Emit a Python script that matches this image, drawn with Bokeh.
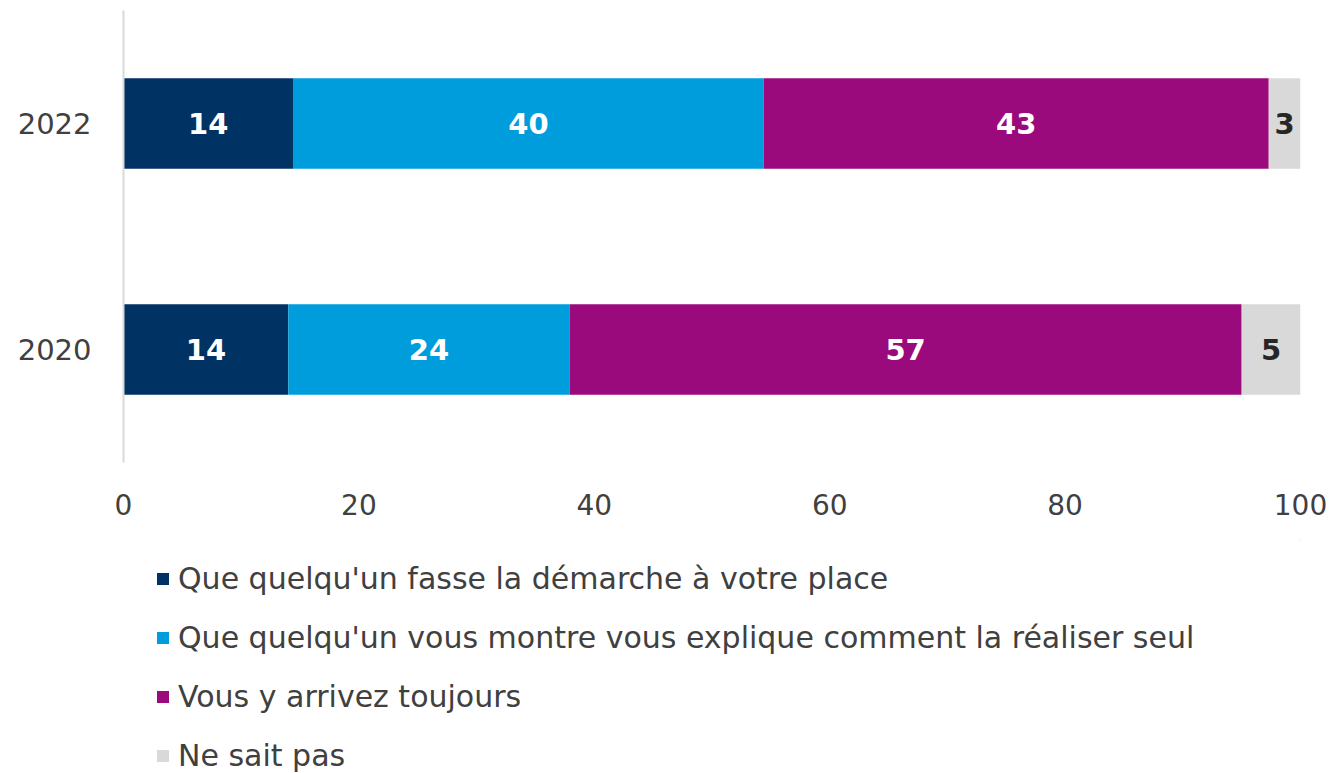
from bokeh.plotting import figure
from bokeh.layouts import column
from bokeh.models import ColumnDataSource, FactorRange, FixedTicker, Legend
from bokeh.core.properties import value
from bokeh.embed import file_html
from bokeh.resources import INLINE

years = ["2020", "2022"]
series_names = [
    "Que quelqu'un fasse la démarche à votre place",
    "Que quelqu'un vous montre vous explique comment la réaliser seul",
    "Vous y arrivez toujours",
    "Ne sait pas",
]
fasse = [14.0, 14.4]
montre = [23.9, 40.0]
arrivez = [57.1, 42.9]
nsp = [5.0, 2.7]
label_fasse = ["14", "14"]
label_montre = ["24", "40"]
label_arrivez = ["57", "43"]
label_nsp = ["5", "3"]
colors = ["#003263", "#009DDC", "#9B0A7D", "#D9D9D9"]
label_colors = ["white", "white", "white", "#262626"]
x_ticks = [0, 20, 40, 60, 80, 100]

FONT = "DejaVu Sans"
keys = ["fasse", "montre", "arrivez", "nsp"]
source = ColumnDataSource(dict(years=years, fasse=fasse, montre=montre, arrivez=arrivez, nsp=nsp))

p = figure(
    frame_width=1177, frame_height=452,
    y_range=FactorRange(*years, range_padding=0),
    x_range=(0, 100),
    output_backend="svg", toolbar_location=None,
    min_border_left=123, min_border_right=30, min_border_top=10, min_border_bottom=78,
)
p.outline_line_color = None
p.grid.visible = False

renderers = p.hbar_stack(keys, y="years", height=0.4, color=colors, source=source, line_width=0)

# value labels
series_vals = [fasse, montre, arrivez, nsp]
series_labels = [label_fasse, label_montre, label_arrivez, label_nsp]
for i in range(4):
    xs, ys, ts = [], [], []
    for j, yr in enumerate(years):
        left = sum(series_vals[k][j] for k in range(i))
        xs.append(left + series_vals[i][j] / 2)
        ys.append(yr)
        ts.append(series_labels[i][j])
    p.text(x=xs, y=ys, text=ts, text_align="center", text_baseline="middle",
           text_font=value(FONT), text_font_style="bold", text_font_size="29px",
           text_color=label_colors[i])

# axes
p.xaxis.ticker = FixedTicker(ticks=x_ticks)
p.xaxis.axis_line_color = None
p.xaxis.major_tick_line_color = None
p.xaxis.minor_tick_line_color = None
p.xaxis.major_label_text_font = FONT
p.xaxis.major_label_text_font_size = "28px"
p.xaxis.major_label_text_color = "#404040"
p.xaxis.major_label_standoff = 25

p.yaxis.axis_line_color = "#D9D9D9"
p.yaxis.axis_line_width = 2
p.yaxis.major_tick_line_color = None
p.yaxis.minor_tick_line_color = None
p.yaxis.major_label_text_font = FONT
p.yaxis.major_label_text_font_size = "29px"
p.yaxis.major_label_text_color = "#404040"
p.yaxis.major_label_standoff = 26

# legend panel (separate frameless figure); its swatch renderers lie outside the visible range
lp = figure(
    width=1330, height=233, x_range=(0, 1), y_range=(0, 1),
    x_axis_type=None, y_axis_type=None,
    output_backend="svg", toolbar_location=None, min_border=0,
)
lp.outline_line_color = None
lp.grid.visible = False
swatch_src = ColumnDataSource(dict(y=[5.0], left=[5.0], right=[6.0]))
legend_renderers = [
    lp.hbar(y="y", left="left", right="right", height=0.1, color=c, source=swatch_src, line_width=0)
    for c in colors
]
legend = Legend(
    items=[(name, [r]) for name, r in zip(series_names, legend_renderers)],
    orientation="vertical", location=(32, 0),
    glyph_width=15, glyph_height=15, label_standoff=8,
    label_text_font=FONT, label_text_font_size="30px", label_text_color="#404040",
    label_height=36, spacing=23, padding=0, margin=0,
    border_line_color=None, background_fill_alpha=0,
)
lp.add_layout(legend, "center")

layout = column(p, lp, spacing=0)
open("out.html", "w").write(file_html(layout, INLINE))
